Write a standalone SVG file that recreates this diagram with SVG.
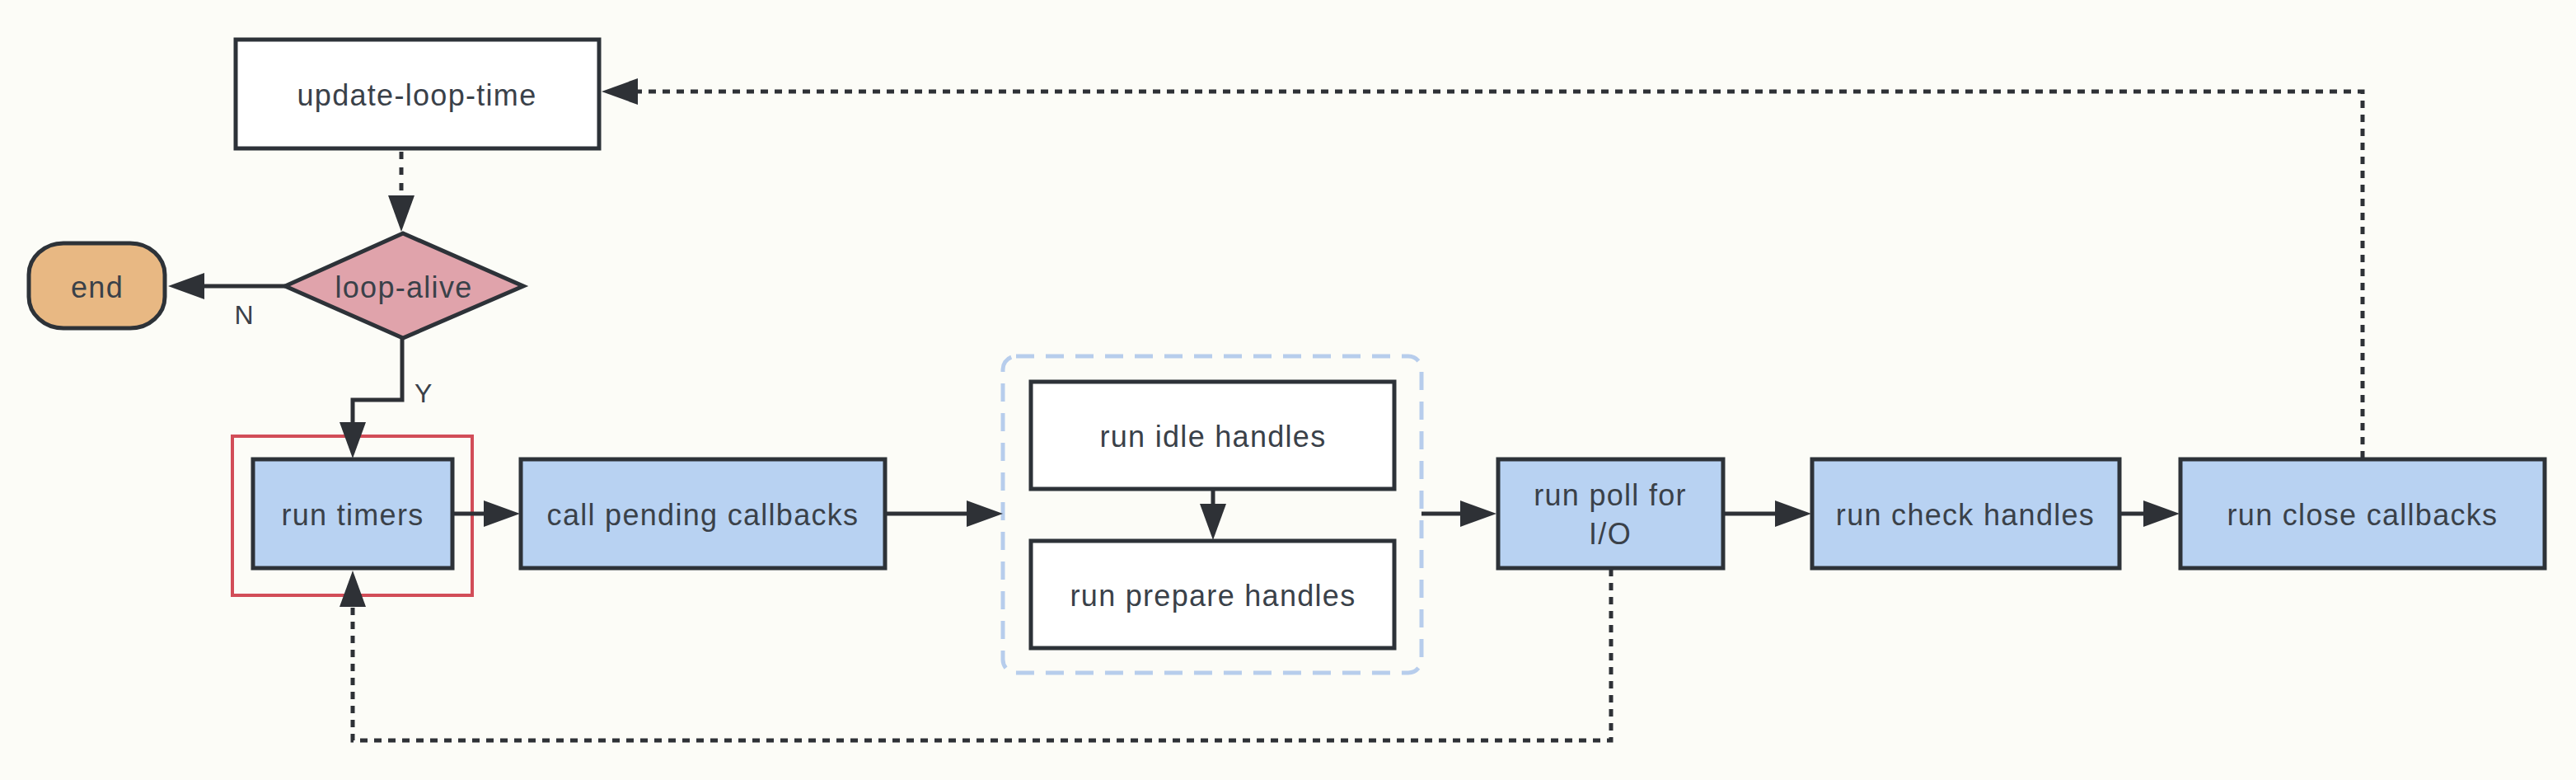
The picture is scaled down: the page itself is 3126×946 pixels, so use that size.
<svg xmlns="http://www.w3.org/2000/svg" width="3126" height="946" viewBox="0 0 3126 946">
<defs>
<marker id="ah" markerUnits="userSpaceOnUse" markerWidth="46" markerHeight="34" refX="2" refY="16" orient="auto">
<path d="M0,0 L44,16 L0,32 z" fill="#2e3136"/>
</marker>
<style>
.box{stroke:#2d3238;stroke-width:5}
.blue{fill:#b8d2f2}
.white{fill:#ffffff}
.t{font-family:"Liberation Sans",Arial,sans-serif;font-size:36px;letter-spacing:1.3px;fill:#3a4149;text-anchor:middle}
.lbl{font-family:"Liberation Sans",Arial,sans-serif;font-size:32px;fill:#3a4149}
.solid{fill:none;stroke:#2e3136;stroke-width:5}
.dot{fill:none;stroke:#2e3136;stroke-width:5;stroke-dasharray:9 8}
</style>
</defs>
<rect width="3126" height="946" fill="#fcfcf7"/>
<g id="group-idle-prepare">
<rect x="1217" y="432" width="508" height="384" rx="16" fill="none" stroke="#b7cdec" stroke-width="5" stroke-dasharray="22 14"/>
</g>
<g id="highlight-timers">
<rect x="282" y="529" width="291" height="193" fill="none" stroke="#d24d58" stroke-width="4"/>
</g>
<g id="connectors">
<path class="dot" d="M487,184 V239" marker-end="url(#ah)" style="stroke-dasharray:9 10"/>
<path class="solid" d="M346,347 H246" marker-end="url(#ah)"/>
<path class="solid" d="M488,409 V485 H428 V514" marker-end="url(#ah)"/>
<path class="solid" d="M549,623 H589" marker-end="url(#ah)"/>
<path class="solid" d="M1074,623 H1175" marker-end="url(#ah)"/>
<path class="solid" d="M1472,593 V613" marker-end="url(#ah)"/>
<path class="solid" d="M1725,623 H1774" marker-end="url(#ah)"/>
<path class="solid" d="M2091,623 H2156" marker-end="url(#ah)"/>
<path class="solid" d="M2572,623 H2603" marker-end="url(#ah)"/>
<path class="dot" d="M1955,690 V898 H428 V734" marker-end="url(#ah)"/>
<path class="dot" d="M2867,556 V111 H772" marker-end="url(#ah)"/>
<text class="lbl" x="296" y="393" text-anchor="middle">N</text>
<text class="lbl" x="503" y="488">Y</text>
</g>
<g id="node-update-loop-time">
<rect class="box white" x="286" y="48" width="441" height="132"/>
<text class="t" x="506" y="128">update-loop-time</text>
</g>
<g id="node-loop-alive">
<polygon class="box" points="346,347 489,283 635,347 489,410" fill="#e0a3ab"/>
<text class="t" x="490" y="361">loop-alive</text>
</g>
<g id="node-end">
<rect class="box" x="35" y="295" width="165" height="103" rx="42" ry="38" fill="#e8b883"/>
<text class="t" x="118" y="361">end</text>
</g>
<g id="node-run-timers">
<rect class="box blue" x="307" y="557" width="242" height="132"/>
<text class="t" x="428" y="637">run timers</text>
</g>
<g id="node-call-pending">
<rect class="box blue" x="632" y="557" width="442" height="132"/>
<text class="t" x="853" y="637">call pending callbacks</text>
</g>
<g id="node-run-idle">
<rect class="box white" x="1251" y="463" width="441" height="130"/>
<text class="t" x="1472" y="542">run idle handles</text>
</g>
<g id="node-run-prepare">
<rect class="box white" x="1251" y="656" width="441" height="130"/>
<text class="t" x="1472" y="735">run prepare handles</text>
</g>
<g id="node-run-poll">
<rect class="box blue" x="1818" y="557" width="273" height="132"/>
<text class="t" x="1954" y="613">run poll for</text>
<text class="t" x="1954" y="660">I/O</text>
</g>
<g id="node-run-check">
<rect class="box blue" x="2199" y="557" width="373" height="132"/>
<text class="t" x="2385" y="637">run check handles</text>
</g>
<g id="node-run-close">
<rect class="box blue" x="2646" y="557" width="442" height="132"/>
<text class="t" x="2867" y="637">run close callbacks</text>
</g>
</svg>
